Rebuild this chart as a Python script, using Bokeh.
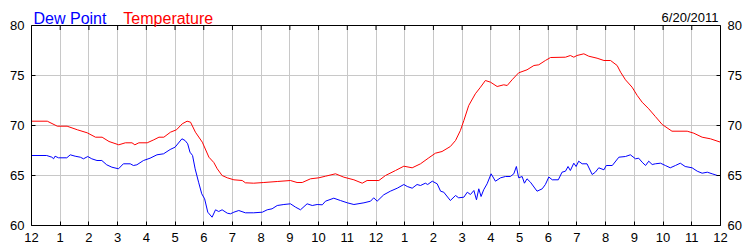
from bokeh.plotting import figure
from bokeh.models import Range1d, LinearAxis, FixedTicker, Label, Span
from bokeh.embed import file_html
from bokeh.resources import INLINE

temp_hours = [0.0, 0.55, 0.9, 1.24, 1.6, 1.94, 2.23, 2.46, 2.7, 3.04, 3.27, 3.5, 3.6, 3.74, 4.03, 4.26,
              4.44, 4.61, 4.84, 5.05, 5.25, 5.42, 5.54, 5.71, 5.95, 6.18, 6.35, 6.47, 6.64, 6.82, 7.05,
              7.34, 7.45, 7.74, 8.09, 8.56, 9.02, 9.25, 9.43, 9.72, 10.01, 10.24, 10.59, 10.88, 11.23,
              11.52, 11.69, 12.1, 12.33, 12.68, 12.97, 13.26, 13.55, 13.84, 14.07, 14.3, 14.59, 14.77,
              14.94, 15.06, 15.23, 15.46, 15.64, 15.81, 15.99, 16.22, 16.45, 16.57, 16.74, 16.97, 17.26,
              17.5, 17.67, 17.9, 18.08, 18.6, 18.77, 18.89, 19.0, 19.24, 19.41, 19.7, 19.94, 20.17, 20.4,
              20.52, 20.69, 20.92, 21.1, 21.27, 21.5, 21.73, 21.97, 22.31, 22.84, 23.07, 23.36, 23.65, 24.0]
temp_values = [70.43, 70.43, 69.93, 69.93, 69.57, 69.27, 68.83, 68.83, 68.4, 68.07, 68.27, 68.27, 68.07,
               68.27, 68.27, 68.57, 68.83, 68.83, 69.33, 69.57, 70.17, 70.43, 70.33, 69.33, 68.33, 66.83,
               66.3, 65.67, 65.0, 64.77, 64.57, 64.5, 64.27, 64.23, 64.3, 64.4, 64.5, 64.3, 64.3, 64.67,
               64.77, 64.93, 65.17, 64.83, 64.57, 64.23, 64.5, 64.5, 65.0, 65.5, 65.93, 65.77, 66.17,
               66.77, 67.23, 67.4, 67.9, 68.5, 69.5, 70.5, 72.0, 73.17, 73.83, 74.5, 74.33, 73.9, 74.07,
               74.0, 74.57, 75.27, 75.57, 76.0, 76.07, 76.5, 76.8, 76.83, 77.0, 76.83, 77.0, 77.17, 76.93,
               76.73, 76.5, 76.5, 76.0, 75.33, 74.57, 73.83, 73.0, 72.33, 71.67, 70.9, 70.1, 69.43, 69.43,
               69.23, 68.83, 68.67, 68.33]

dew_hours = [0.0, 0.53, 0.71, 0.77, 0.82, 0.94, 1.23, 1.35, 1.52, 1.7, 1.81, 1.96, 2.1, 2.28, 2.45, 2.62,
             2.8, 3.03, 3.2, 3.44, 3.55, 3.67, 3.9, 4.13, 4.37, 4.6, 4.83, 5.0, 5.24, 5.35, 5.44, 5.52,
             5.61, 5.7, 5.82, 5.93, 6.03, 6.14, 6.29, 6.41, 6.52, 6.64, 6.82, 6.93, 7.05, 7.22, 7.45,
             7.74, 8.04, 8.21, 8.38, 8.56, 8.79, 9.02, 9.2, 9.37, 9.6, 9.78, 9.95, 10.13, 10.24, 10.53,
             10.76, 11.0, 11.23, 11.58, 11.81, 11.92, 12.04, 12.27, 12.5, 12.74, 12.97, 13.09, 13.26,
             13.43, 13.55, 13.72, 13.8, 13.96, 14.13, 14.25, 14.36, 14.59, 14.77, 14.88, 15.06, 15.18,
             15.29, 15.41, 15.5, 15.58, 15.66, 15.75, 15.87, 16.01, 16.16, 16.34, 16.51, 16.68, 16.8,
             16.89, 16.97, 17.09, 17.17, 17.26, 17.38, 17.61, 17.79, 17.9, 18.02, 18.14, 18.35, 18.48,
             18.6, 18.69, 18.77, 18.89, 18.97, 19.06, 19.18, 19.35, 19.53, 19.64, 19.76, 19.94, 20.02,
             20.23, 20.46, 20.69, 20.86, 21.04, 21.15, 21.27, 21.39, 21.5, 21.62, 21.73, 21.91, 22.08,
             22.25, 22.43, 22.6, 22.77, 23.01, 23.19, 23.36, 23.54, 23.71, 23.89, 24.0]
dew_values = [67.0, 67.0, 66.83, 66.67, 66.93, 66.77, 66.77, 67.07, 66.93, 66.83, 66.67, 66.9, 66.67,
              66.5, 66.5, 66.07, 65.83, 65.67, 66.17, 66.17, 66.0, 66.07, 66.5, 66.73, 67.07, 67.17,
              67.6, 67.83, 68.67, 68.5, 68.17, 67.33, 67.0, 65.67, 64.33, 63.17, 62.67, 61.33, 60.83,
              61.57, 61.4, 61.57, 61.23, 61.17, 61.33, 61.5, 61.27, 61.27, 61.33, 61.57, 61.67, 62.0,
              62.1, 62.17, 61.83, 61.57, 62.17, 62.0, 62.1, 62.07, 62.43, 62.73, 62.5, 62.27, 62.1,
              62.27, 62.43, 62.77, 62.43, 63.07, 63.43, 63.73, 64.1, 63.9, 63.73, 64.1, 64.0, 64.23,
              64.1, 64.43, 64.17, 63.43, 63.33, 62.5, 63.0, 62.77, 62.83, 63.33, 63.1, 63.5, 62.57,
              63.67, 62.9, 63.57, 64.17, 65.17, 64.43, 64.77, 64.9, 64.9, 65.17, 65.9, 64.77, 64.9,
              64.23, 64.67, 64.33, 63.43, 63.67, 64.1, 64.85, 64.57, 64.57, 65.33, 65.43, 65.9, 65.5,
              66.23, 65.9, 66.43, 66.17, 66.17, 65.1, 65.33, 65.77, 65.57, 66.0, 66.0, 66.83, 66.9,
              67.07, 66.67, 66.73, 66.33, 66.0, 66.43, 66.1, 66.17, 66.23, 66.0, 65.77, 66.0, 66.23,
              65.9, 65.77, 65.43, 65.23, 65.33, 65.17, 65.0, 65.0]

x_ticks = list(range(0, 25))
x_tick_labels = ["12", "1", "2", "3", "4", "5", "6", "7", "8", "9", "10", "11",
                 "12", "1", "2", "3", "4", "5", "6", "7", "8", "9", "10", "11", "12"]
y_ticks = [60, 65, 70, 75, 80]
y_min, y_max = 60, 80
series_names = ["Dew Point", "Temperature"]
date_text = "6/20/2011"

FONT = "Liberation Sans"
# the plot frame also covers the header strip (2.5 units of 10 px) so header texts are not clipped
HEADER = 2.5

p = figure(width=750, height=250, output_backend="svg", toolbar_location=None,
           x_range=Range1d(0, 24), y_range=Range1d(y_min, y_max + HEADER),
           min_border_left=31, min_border_right=30, min_border_top=0, min_border_bottom=25)
p.xaxis.visible = False
p.yaxis.visible = False
p.outline_line_color = None
p.background_fill_color = "white"
p.border_fill_color = "white"

overrides = {t: lab for t, lab in zip(x_ticks, x_tick_labels)}

def style_axis(ax):
    ax.axis_line_color = "black"
    ax.major_tick_in = 4
    ax.major_tick_out = 0
    ax.minor_tick_in = 0
    ax.minor_tick_out = 0
    ax.major_tick_line_color = "black"
    ax.major_label_text_font = FONT
    ax.major_label_text_font_size = "13px"
    ax.major_label_text_color = "black"
    ax.major_label_standoff = 7

xb = LinearAxis(ticker=FixedTicker(ticks=x_ticks), major_label_overrides=overrides)
style_axis(xb)
p.add_layout(xb, "below")
yl = LinearAxis(ticker=FixedTicker(ticks=y_ticks), bounds=(y_min, y_max))
style_axis(yl)
p.add_layout(yl, "left")
yr = LinearAxis(ticker=FixedTicker(ticks=y_ticks), bounds=(y_min, y_max))
style_axis(yr)
p.add_layout(yr, "right")

p.xgrid.ticker = FixedTicker(ticks=x_ticks)
p.xgrid.cross_bounds = (y_min, y_max)
p.ygrid.ticker = FixedTicker(ticks=y_ticks[1:-1])
p.grid.grid_line_color = "#c8c8c8"
p.grid.grid_line_width = 1

# top border of the chart area with inward ticks
p.add_layout(Span(location=y_max, dimension="width", line_color="black", line_width=1))
p.segment(x0=x_ticks, y0=[y_max] * len(x_ticks), x1=x_ticks, y1=[y_max - 0.45] * len(x_ticks),
          line_color="black", line_width=1)

p.line(dew_hours, dew_values, line_color="#0000ff", line_width=1)
p.line(temp_hours, temp_values, line_color="#ff0000", line_width=1)

# header texts, placed in the header strip (x in hours, y in degrees above the chart top)
p.add_layout(Label(x=0.07, y=y_max + 0.7, text=series_names[0],
                   text_color="#0000ff", text_font=FONT, text_font_size="16px",
                   text_baseline="alphabetic", text_align="left"))
p.add_layout(Label(x=3.2, y=y_max + 0.7, text=series_names[1],
                   text_color="#ff0000", text_font=FONT, text_font_size="16px",
                   text_baseline="alphabetic", text_align="left"))
p.add_layout(Label(x=23.93, y=y_max + 0.8, text=date_text,
                   text_color="black", text_font=FONT, text_font_size="13px",
                   text_baseline="alphabetic", text_align="right"))

open("out.html", "w").write(file_html(p, INLINE))
